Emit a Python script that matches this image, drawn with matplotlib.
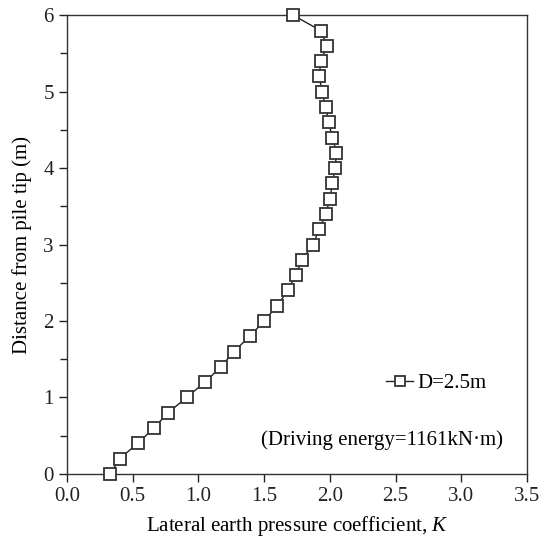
import numpy as np
import matplotlib.pyplot as plt
from matplotlib.ticker import MultipleLocator, FormatStrFormatter

plt.rcParams['font.family'] = ['Liberation Serif', 'DejaVu Serif']
plt.rcParams['mathtext.fontset'] = 'custom'
plt.rcParams['mathtext.it'] = 'Liberation Serif:italic'

# distance from pile tip (m) and lateral earth pressure coefficient K
depth = [0.0, 0.2, 0.4, 0.6, 0.8, 1.0, 1.2, 1.4, 1.6, 1.8, 2.0,
         2.2, 2.4, 2.6, 2.8, 3.0, 3.2, 3.4, 3.6, 3.8, 4.0,
         4.2, 4.4, 4.6, 4.8, 5.0, 5.2, 5.4, 5.6, 5.8, 6.0]
K = [0.33, 0.40, 0.54, 0.66, 0.77, 0.91, 1.05, 1.17, 1.27, 1.39, 1.50,
     1.60, 1.68, 1.74, 1.79, 1.87, 1.92, 1.97, 2.00, 2.02, 2.04,
     2.05, 2.02, 1.99, 1.97, 1.94, 1.92, 1.93, 1.98, 1.93, 1.72]

fs = 15

fig = plt.figure(figsize=(5.41, 5.44), dpi=100)
ax = fig.add_axes([0.124, 0.129, 0.850, 0.843])

ax.plot(K, depth, color='#222222', linewidth=1.0, marker='s', markersize=8.5,
        markerfacecolor='white', markeredgecolor='#333333', markeredgewidth=1.3,
        label='D=2.5m', clip_on=False, zorder=3)

ax.set_xlim(0, 3.5)
ax.set_ylim(0, 6)
ax.xaxis.set_major_locator(MultipleLocator(0.5))
ax.xaxis.set_major_formatter(FormatStrFormatter('%.1f'))
ax.yaxis.set_major_locator(MultipleLocator(1))
ax.yaxis.set_minor_locator(MultipleLocator(0.5))
ax.tick_params(which='major', direction='out', length=6, width=1,
               labelsize=fs, colors='#222222')
ax.tick_params(which='minor', direction='out', length=5, width=1, colors='#222222')

for s in ax.spines.values():
    s.set_color('#333333')
    s.set_linewidth(1.0)

ax.set_xlabel('Lateral earth pressure coefficient, $\\mathit{K}$', fontsize=fs, labelpad=6)
ax.set_ylabel('Distance from pile tip (m)', fontsize=fs, labelpad=8)

ax.legend(loc='center right', bbox_to_anchor=(0.935, 0.198), frameon=False,
          fontsize=fs, handlelength=1.3, handletextpad=0.2, borderpad=0,
          markerscale=0.8)
ax.text(0.948, 0.074, '(Driving energy=1161kN·m)', transform=ax.transAxes,
        ha='right', va='center', fontsize=fs)

fig.savefig('out.png', dpi=100)
